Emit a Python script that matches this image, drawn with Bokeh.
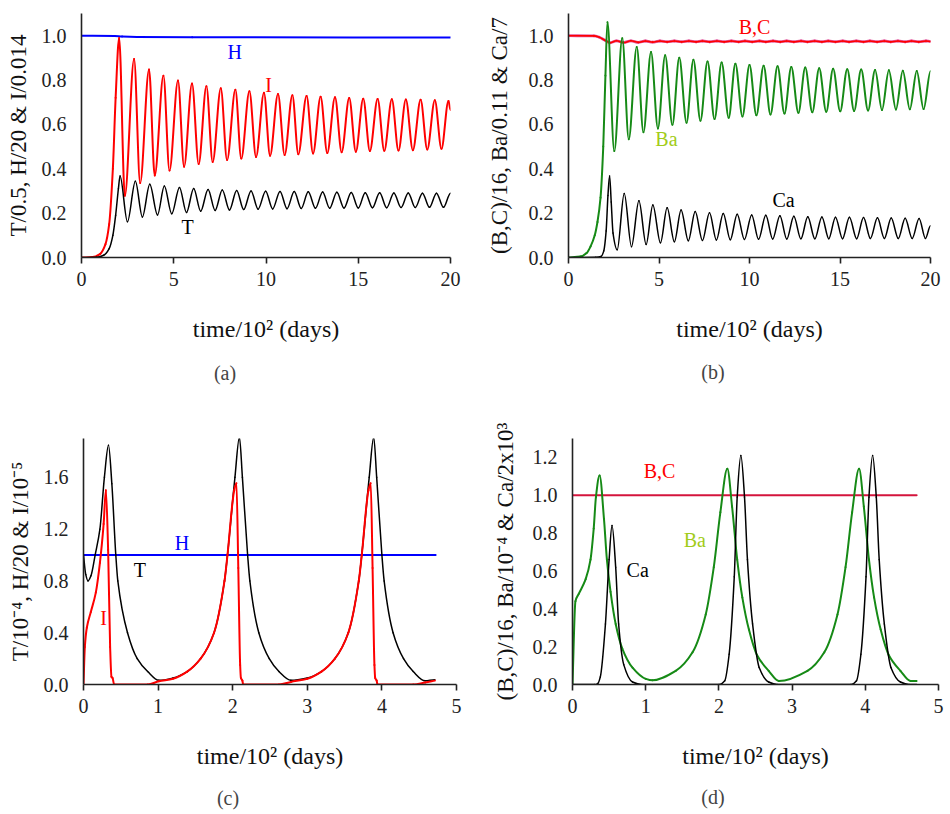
import numpy as np
from bokeh.plotting import figure
from bokeh.layouts import column, row
from bokeh.models import Range1d, FixedTicker, NumeralTickFormatter, Label, Div
from bokeh.embed import file_html
from bokeh.resources import INLINE

FONT = "Liberation Serif"

# ---------------- panel (a) ----------------
a_I_t = [0, 0.6, 1.0, 1.3, 1.5, 1.7, 1.85, 2.04,
         2.35, 2.85, 3.18, 3.66, 3.97, 4.44, 4.77, 5.23, 5.56, 5.99,
         6.35, 6.77, 7.11, 7.55, 7.89, 8.34, 8.66, 9.10, 9.46, 9.89,
         10.22, 10.65, 11.01, 11.43, 11.75, 12.20, 12.55, 12.96, 13.32, 13.74,
         14.10, 14.51, 14.87, 15.27, 15.63, 16.05, 16.41, 16.82, 17.18, 17.58,
         17.96, 18.38, 18.74, 19.15, 19.51, 19.89, 20.0]
a_I_y = [0, 0.002, 0.015, 0.06, 0.15, 0.40, 0.72, 0.99,
         0.278, 0.895, 0.336, 0.848, 0.370, 0.819, 0.392, 0.798, 0.409, 0.784,
         0.421, 0.772, 0.431, 0.763, 0.439, 0.756, 0.446, 0.749, 0.453, 0.743,
         0.459, 0.737, 0.462, 0.732, 0.466, 0.728, 0.469, 0.725, 0.471, 0.722,
         0.475, 0.719, 0.477, 0.716, 0.480, 0.715, 0.481, 0.713, 0.482, 0.712,
         0.484, 0.711, 0.487, 0.709, 0.490, 0.706, 0.665]
a_T_t = [0, 0.8, 1.2, 1.5, 1.7, 1.85, 2.0, 2.09,
         2.49, 2.92, 3.30, 3.70, 4.12, 4.49, 4.89, 5.31, 5.69, 6.08,
         6.46, 6.86, 7.24, 7.63, 8.02, 8.41, 8.79, 9.19, 9.57, 9.98,
         10.36, 10.76, 11.14, 11.53, 11.91, 12.29, 12.68, 13.07, 13.45, 13.84,
         14.23, 14.62, 15.00, 15.38, 15.77, 16.16, 16.54, 16.93, 17.32, 17.71,
         18.09, 18.48, 18.86, 19.24, 19.62, 20.0]
a_T_y = [0, 0.001, 0.01, 0.04, 0.10, 0.19, 0.31, 0.367,
         0.161, 0.344, 0.183, 0.330, 0.192, 0.322, 0.197, 0.316, 0.203, 0.311,
         0.209, 0.307, 0.212, 0.304, 0.214, 0.302, 0.216, 0.300, 0.218, 0.299,
         0.219, 0.298, 0.220, 0.297, 0.221, 0.296, 0.222, 0.295, 0.222, 0.294,
         0.223, 0.293, 0.223, 0.292, 0.224, 0.292, 0.224, 0.291, 0.225, 0.291,
         0.225, 0.290, 0.226, 0.290, 0.226, 0.290]
a_H_t = [0, 1.8, 2.2, 3.0, 6.0, 20.0]
a_H_y = [1.0, 0.999, 0.996, 0.994, 0.993, 0.992]

# ---------------- panel (b) ----------------
b_BC_t = [0, 1.4, 1.7, 2.0, 2.3, 2.65, 3.05, 3.45, 3.85, 4.25,
          4.65, 5.05, 5.45, 5.85, 6.25, 6.65, 7.05, 7.4, 7.8, 8.2,
          8.6, 9.0, 9.4, 9.75, 10.15, 10.55, 10.9, 11.3, 11.7, 12.05,
          12.45, 12.85, 13.2, 13.6, 14.0, 14.35, 14.75, 15.15, 15.5, 15.9,
          16.3, 16.65, 17.05, 17.45, 17.8, 18.2, 18.6, 18.95, 19.35, 19.75, 20.0]
b_BC_y = [1.0, 0.999, 0.993, 0.980, 0.968, 0.977, 0.969, 0.977, 0.970, 0.976,
          0.971, 0.976, 0.972, 0.976, 0.972, 0.976, 0.972, 0.976, 0.972, 0.976,
          0.972, 0.976, 0.972, 0.976, 0.972, 0.976, 0.972, 0.976, 0.972, 0.976,
          0.972, 0.976, 0.972, 0.976, 0.972, 0.976, 0.972, 0.976, 0.972, 0.976,
          0.972, 0.976, 0.972, 0.976, 0.972, 0.976, 0.972, 0.976, 0.972, 0.976, 0.974]
b_Ba_t = [0, 0.66, 1.0, 1.22, 1.45, 1.6, 1.77, 1.92, 2.04, 2.15,
          2.53, 2.97, 3.33, 3.77, 4.14, 4.56, 4.94, 5.34, 5.74, 6.12,
          6.52, 6.90, 7.29, 7.68, 8.07, 8.46, 8.85, 9.22, 9.61, 10.0,
          10.38, 10.78, 11.16, 11.55, 11.93, 12.31, 12.70, 13.08, 13.47, 13.85,
          14.24, 14.62, 15.01, 15.40, 15.78, 16.17, 16.55, 16.94, 17.32, 17.70,
          18.09, 18.47, 18.86, 19.24, 19.62, 20.0]
b_Ba_y = [0, 0.004, 0.02, 0.05, 0.10, 0.16, 0.27, 0.50, 0.82, 1.06,
          0.48, 0.988, 0.533, 0.949, 0.565, 0.926, 0.582, 0.912, 0.598, 0.900,
          0.608, 0.892, 0.617, 0.884, 0.624, 0.879, 0.630, 0.874, 0.636, 0.868,
          0.641, 0.865, 0.645, 0.862, 0.649, 0.859, 0.652, 0.856, 0.655, 0.853,
          0.657, 0.851, 0.659, 0.849, 0.661, 0.847, 0.663, 0.845, 0.665, 0.844,
          0.667, 0.842, 0.668, 0.841, 0.669, 0.840]
b_Ca_t = [0, 1.5, 1.8, 1.95, 2.08, 2.18, 2.27, 2.36, 2.46, 2.69,
          3.08, 3.48, 3.89, 4.29, 4.66, 5.08, 5.45, 5.85, 6.22, 6.62,
          7.00, 7.40, 7.79, 8.17, 8.55, 8.94, 9.32, 9.72, 10.12, 10.50,
          10.90, 11.28, 11.68, 12.06, 12.45, 12.84, 13.22, 13.61, 14.00, 14.38,
          14.75, 15.14, 15.52, 15.92, 16.30, 16.68, 17.07, 17.45, 17.83, 18.22,
          18.60, 18.99, 19.37, 19.72, 20.0]
b_Ca_y = [0, 0.001, 0.005, 0.03, 0.12, 0.28, 0.367, 0.25, 0.11, 0.035,
          0.289, 0.049, 0.256, 0.059, 0.237, 0.066, 0.224, 0.071, 0.214, 0.075,
          0.207, 0.077, 0.202, 0.079, 0.198, 0.080, 0.195, 0.081, 0.192, 0.082,
          0.190, 0.083, 0.188, 0.083, 0.186, 0.084, 0.184, 0.084, 0.183, 0.085,
          0.182, 0.085, 0.181, 0.085, 0.180, 0.086, 0.179, 0.086, 0.178, 0.086,
          0.177, 0.086, 0.176, 0.086, 0.143]

# ---------------- panel (c) ----------------
c_T_t = [0, 0.03, 0.06, 0.10, 0.156, 0.22, 0.28, 0.335, 0.38, 0.433,
         0.46, 0.59, 0.72, 0.86, 1.01, 1.20, 1.39, 1.57, 1.75, 1.89,
         1.93, 2.03, 2.09, 2.13, 2.20, 2.23, 2.35, 2.49, 2.62, 2.78,
         3.00, 3.19, 3.37, 3.55, 3.69, 3.73, 3.83, 3.89, 3.93, 4.00,
         4.03, 4.15, 4.29, 4.42, 4.58, 4.71]
c_T_y = [1.0, 0.85, 0.80, 0.84, 1.0, 1.2, 1.6, 1.847, 1.55, 1.0,
         0.8, 0.4, 0.2, 0.1, 0.032, 0.05, 0.1, 0.2, 0.4, 0.8,
         1.0, 1.6, 1.91, 1.6, 1.0, 0.8, 0.4, 0.2, 0.1, 0.032,
         0.05, 0.1, 0.2, 0.4, 0.8, 1.0, 1.6, 1.91, 1.6, 1.0,
         0.8, 0.4, 0.2, 0.1, 0.028, 0.037]
c_I_t = [0, 0.018, 0.045, 0.098, 0.165, 0.22, 0.27, 0.30, 0.33, 0.357,
         0.375, 0.39, 0.41, 0.86, 1.01, 1.20, 1.39, 1.57, 1.75, 1.89,
         1.93, 2.02, 2.05, 2.075, 2.10, 2.11, 2.13, 2.14, 2.62, 2.78,
         3.00, 3.19, 3.37, 3.55, 3.69, 3.73, 3.82, 3.85, 3.875, 3.90,
         3.91, 3.93, 3.94, 4.42, 4.58, 4.71]
c_I_y = [0, 0.29, 0.44, 0.56, 0.71, 0.94, 1.24, 1.50, 1.04, 0.29,
         0.06, 0.05, 0.0, 0.0, 0.025, 0.045, 0.1, 0.2, 0.4, 0.8,
         1.0, 1.5, 1.555, 0.9, 0.15, 0.05, 0.03, 0.0, 0.0, 0.02,
         0.045, 0.1, 0.2, 0.4, 0.8, 1.0, 1.5, 1.555, 0.9, 0.15,
         0.05, 0.03, 0.0, 0.0, 0.015, 0.03]
c_H_t = [0, 4.72]
c_H_y = [1.0, 1.0]

# ---------------- panel (d) ----------------
d_Ba_t = [0, 0.04, 0.087, 0.18, 0.246, 0.29, 0.32, 0.37, 0.43, 0.47,
          0.52, 0.59, 0.68, 0.82, 1.0, 1.09, 1.41, 1.64, 1.82, 1.93,
          2.02, 2.115, 2.18, 2.25, 2.32, 2.41, 2.52, 2.68, 2.82, 3.21,
          3.44, 3.62, 3.73, 3.82, 3.915, 3.98, 4.05, 4.12, 4.21, 4.32,
          4.48, 4.62, 4.70]
d_Ba_y = [0, 0.44, 0.48, 0.557, 0.66, 0.825, 0.99, 1.105, 0.875, 0.66,
          0.49, 0.32, 0.19, 0.089, 0.03, 0.022, 0.072, 0.17, 0.37, 0.62,
          0.91, 1.14, 0.94, 0.66, 0.46, 0.29, 0.156, 0.072, 0.018, 0.072,
          0.17, 0.37, 0.62, 0.91, 1.14, 0.94, 0.66, 0.46, 0.29, 0.156,
          0.072, 0.018, 0.018]
d_Ca_t = [0, 0.30, 0.345, 0.38, 0.45, 0.50, 0.54, 0.59, 0.63, 0.70,
          0.82, 0.95, 2.0, 2.08, 2.14, 2.21, 2.25, 2.30, 2.35, 2.39,
          2.46, 2.55, 2.68, 2.80, 3.80, 3.88, 3.94, 4.01, 4.05, 4.10,
          4.15, 4.19, 4.26, 4.35, 4.48, 4.60, 4.70]
d_Ca_y = [0, 0.0, 0.005, 0.04, 0.32, 0.66, 0.84, 0.62, 0.32, 0.105,
          0.013, 0.0, 0.0, 0.02, 0.16, 0.57, 0.99, 1.21, 0.99, 0.66,
          0.32, 0.09, 0.013, 0.0, 0.0, 0.02, 0.16, 0.57, 0.99, 1.21,
          0.99, 0.66, 0.32, 0.09, 0.013, 0.0, 0.0]
d_BC_t = [0, 4.70]
d_BC_y = [1.0, 1.0]

# tick values
x_ticks_long = [0, 5, 10, 15, 20]
x_ticks_short = [0, 1, 2, 3, 4, 5]
y_ticks_02 = [0.0, 0.2, 0.4, 0.6, 0.8, 1.0]
y_ticks_04 = [0.0, 0.4, 0.8, 1.2, 1.6]
y_ticks_d = [0.0, 0.2, 0.4, 0.6, 0.8, 1.0, 1.2]

X_TITLE = "time/10² (days)"


def smooth_path(t, y):
    """Bezier control points so the curve passes smoothly through the read points
    (monotone tangents: flat at local extrema, no overshoot)."""
    t = np.asarray(t, float)
    y = np.asarray(y, float)
    assert len(t) == len(y)
    h = np.diff(t)
    d = np.diff(y) / h
    n = len(t)
    m = np.zeros(n)
    for k in range(1, n - 1):
        if d[k - 1] * d[k] > 0:
            w1 = 2 * h[k] + h[k - 1]
            w2 = h[k] + 2 * h[k - 1]
            m[k] = (w1 + w2) / (w1 / d[k - 1] + w2 / d[k])
    m[0] = d[0] if n > 2 and d[0] * d[1] > 0 else 0.0
    m[-1] = d[-1] if n > 2 and d[-1] * d[-2] > 0 else 0.0
    return dict(x0=t[:-1], y0=y[:-1], x1=t[1:], y1=y[1:],
                cx0=t[:-1] + h / 3, cy0=y[:-1] + m[:-1] * h / 3,
                cx1=t[1:] - h / 3, cy1=y[1:] - m[1:] * h / 3)


def curve(p, t, y, color, width=1.5):
    p.bezier(**smooth_path(t, y), line_color=color, line_width=width, line_cap="round")


def label(p, x, y, text, color, size="20px"):
    p.add_layout(Label(x=x, y=y, text=text, text_color=color, text_font=FONT,
                       text_font_size=size, text_align="center", text_baseline="middle"))


def panel(w, h, borders, xr, yr, xticks, yticks, ylabel, ylab_standoff):
    mbl, mbr, mbt, mbb = borders
    p = figure(width=w, height=h, output_backend="svg", toolbar_location=None,
               x_range=Range1d(*xr), y_range=Range1d(*yr),
               min_border_left=mbl, min_border_right=mbr,
               min_border_top=mbt, min_border_bottom=mbb)
    p.outline_line_color = None
    p.grid.visible = False
    xa = p.xaxis[0]
    ya = p.yaxis[0]
    xa.ticker = FixedTicker(ticks=xticks)
    ya.ticker = FixedTicker(ticks=yticks)
    ya.formatter = NumeralTickFormatter(format="0.0")
    for ax in (xa, ya):
        ax.axis_line_color = "#222222"
        ax.axis_line_width = 1.6
        ax.major_tick_line_color = "#222222"
        ax.major_tick_line_width = 1.6
        ax.minor_tick_line_color = None
        ax.major_label_text_font = FONT
        ax.major_label_text_font_size = "20px"
        ax.major_label_text_color = "#222222"
        ax.axis_label_text_font = FONT
        ax.axis_label_text_font_style = "normal"
        ax.axis_label_text_color = "#111111"
    xa.major_tick_out = 6
    xa.major_tick_in = 0
    xa.major_label_standoff = 8
    xa.axis_label = X_TITLE
    xa.axis_label_text_font_size = "24px"
    xa.axis_label_standoff = 27
    ya.major_tick_out = 0
    ya.major_tick_in = 0
    ya.major_label_standoff = 15
    ya.axis_label = ylabel
    ya.axis_label_text_font_size = "23px"
    ya.axis_label_standoff = ylab_standoff
    return p


def caption(text, height, top, center_x):
    html = ('<div style="margin:0; padding:0; position:relative; top:%dpx; left:%dpx; '
            'width:60px; text-align:center; font-family:\'%s\'; font-size:20px; '
            'line-height:20px; color:#444444;">%s</div>' % (top, center_x - 30, FONT, text))
    return Div(text=html, width=475, height=height, margin=0)


RED = "#ff0000"
BLUE = "#0000ff"
GREEN = "#168a16"
LGREEN = "#a2cc1a"

TOP_H = 352
BOT_H = 378

# (a)
pa = panel(475, TOP_H, (81, 25, 13, 89), (0, 20), (0, 1.1), x_ticks_long, y_ticks_02,
           "T/0.5, H/20 & I/0.014", 8)
curve(pa, a_H_t, a_H_y, BLUE, 2.0)
curve(pa, a_I_t, a_I_y, RED, 2.0)
curve(pa, a_T_t, a_T_y, "black", 1.5)
label(pa, 8.30, 0.928, "H", BLUE)
label(pa, 10.14, 0.779, "I", RED)
label(pa, 5.75, 0.139, "T", "black")

# (b)
pb = panel(475, TOP_H, (93, 20, 3, 95), (0, 20), (0, 1.1), x_ticks_long, y_ticks_02,
           "(B,C)/16, Ba/0.11 & Ca/7", 14)
curve(pb, b_BC_t, b_BC_y, "#e0559c", 2.8)
curve(pb, b_BC_t, b_BC_y, RED, 1.6)
curve(pb, b_Ba_t, b_Ba_y, GREEN, 2.0)
curve(pb, b_Ca_t, b_Ca_y, "black", 1.5)
label(pb, 10.28, 1.037, "B,C", RED)
label(pb, 5.41, 0.534, "Ba", LGREEN)
label(pb, 11.88, 0.257, "Ca", "black")

# (c)
pc = panel(475, BOT_H, (83, 19, 38, 86), (0, 5), (0, 1.9), x_ticks_short, y_ticks_04,
           "T/10⁻⁴, H/20 & I/10⁻⁵", 8)
curve(pc, c_H_t, c_H_y, BLUE, 2.0)
curve(pc, c_T_t, c_T_y, "black", 1.5)
curve(pc, c_I_t, c_I_y, RED, 2.0)
label(pc, 1.32, 1.09, "H", BLUE)
label(pc, 0.755, 0.888, "T", "black")
label(pc, 0.27, 0.514, "I", RED)

# (d)
pd = panel(475, BOT_H, (97, 12, 25, 94), (0, 5), (0, 1.3), x_ticks_short, y_ticks_d,
           "(B,C)/16, Ba/10⁻⁴ & Ca/2x10³", 12)
curve(pd, d_BC_t, d_BC_y, "#d4143c", 2.2)
curve(pd, d_Ba_t, d_Ba_y, GREEN, 2.0)
curve(pd, d_Ca_t, d_Ca_y, "black", 1.5)
label(pd, 1.19, 1.126, "B,C", RED)
label(pd, 1.67, 0.765, "Ba", LGREEN)
label(pd, 0.89, 0.604, "Ca", "black")

cap_a = caption("(a)", 400 - TOP_H, 11, 225)
cap_b = caption("(b)", 400 - TOP_H, 10, 238)
cap_c = caption("(c)", 814 - 400 - BOT_H, 10, 228)
cap_d = caption("(d)", 814 - 400 - BOT_H, 9, 238)

layout = column(row(pa, pb), row(cap_a, cap_b), row(pc, pd), row(cap_c, cap_d))
open("out.html", "w").write(file_html(layout, INLINE))
